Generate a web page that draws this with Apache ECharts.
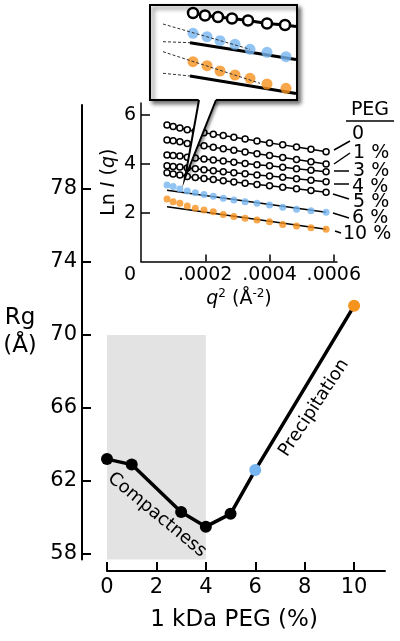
<!DOCTYPE html>
<html><head><meta charset="utf-8">
<script src="https://cdn.jsdelivr.net/npm/echarts@6/dist/echarts.min.js"></script>
<style>html,body{margin:0;padding:0;background:#fff}#c{width:400px;height:641px}</style>
</head><body><div id="c"></div>
<script>
// ---- main chart data ----
const peg = [0, 1, 3, 4, 5, 6, 10];
const rg = [63.2, 62.9, 60.3, 59.5, 60.2, 62.6, 71.6];
const rgTicks = [58, 62, 66, 70, 74, 78];
const pegTicks = [0, 2, 4, 6, 8, 10];
const compactRange = [0, 4];
const compactTop = 70;

// ---- inset (Guinier) data ----
const q2 = [0.000081, 0.0001, 0.000121, 0.000144, 0.000169, 0.000196, 0.000225, 0.000256, 0.000289, 0.000324, 0.000361, 0.0004, 0.000441, 0.000484, 0.000529, 0.000576];
const ln0 = [5.59, 5.53, 5.47, 5.40, 5.34, 5.28, 5.22, 5.16, 5.09, 5.02, 4.94, 4.86, 4.78, 4.69, 4.60, 4.50];
const ln1 = [4.98, 4.95, 4.91, 4.84, 4.79, 4.74, 4.68, 4.62, 4.56, 4.49, 4.42, 4.34, 4.26, 4.18, 4.09, 4.00];
const ln3 = [4.36, 4.34, 4.32, 4.27, 4.24, 4.20, 4.16, 4.12, 4.07, 4.02, 3.97, 3.92, 3.86, 3.80, 3.74, 3.68];
const ln4 = [3.92, 3.89, 3.87, 3.83, 3.80, 3.76, 3.72, 3.68, 3.64, 3.60, 3.55, 3.50, 3.45, 3.39, 3.33, 3.27];
const ln5 = [3.64, 3.59, 3.55, 3.48, 3.44, 3.40, 3.36, 3.31, 3.26, 3.21, 3.16, 3.10, 3.04, 2.98, 2.91, 2.84];
const ln6 = [3.14, 3.07, 2.97, 2.89, 2.82, 2.75, 2.67, 2.59, 2.52, 2.45, 2.39, 2.32, 2.22, 2.14, 2.08, 2.02];
const ln10 = [2.56, 2.45, 2.39, 2.27, 2.18, 2.11, 2.04, 1.93, 1.84, 1.77, 1.70, 1.63, 1.52, 1.45, 1.38, 1.32];
const fitQ2 = [0.000081, 0.000576];
const fit6 = [2.92, 2.02];
const fit10 = [2.24, 1.32];
const lnTicks = [2, 4, 6];
const q2Ticks = [0.0002, 0.0004, 0.0006];
const q2Labels = [0, 0.0002, 0.0004, 0.0006];
const pegLegend = ['0', '1 %', '3 %', '4 %', '5 %', '6 %', '10 %'];

// ---- callout (schematic zoom) data ----
const cBlackX = [4.3, 5.5, 6.8, 8.2, 9.8, 11.7, 13.5, 14.6];
const cBlackY = [8.7, 8.45, 8.3, 8.15, 7.95, 7.65, 7.5, 7.35];
const cDotX = [4.3, 5.7, 7.0, 8.5, 10.0, 11.7, 13.6];
const cBlueY = [6.67, 6.33, 5.93, 5.57, 5.07, 4.77, 4.33];
const cOrangeY = [3.83, 3.43, 2.9, 2.5, 2.17, 1.6, 1.17];
const cBlueFitX = [4.0, 14.6], cBlueFitY = [5.73, 4.04];
const cBlueLowX = [1.3, 4.0], cBlueLowY = [5.83, 5.73];
const cBlueUpX = [1.3, 10.0], cBlueUpY = [7.6, 5.07];
const cOrangeFitX = [4.0, 14.6], cOrangeFitY = [2.4, 0.64];
const cOrangeLowX = [1.3, 4.0], cOrangeLowY = [2.67, 2.4];
const cOrangeUpX = [1.3, 11.0], cOrangeUpY = [4.83, 1.67];
const cArrowX = 2.1;
const cBlueArrow = [5.83, 7.27];
const cOrangeArrow = [2.67, 4.6];

const BLUE = '#76b5ef', ORANGE = '#f6921e', FONT = 'DejaVu Sans';
const zip = (a, b) => a.map((v, i) => [v, b[i]]);

const chart = echarts.init(document.getElementById('c'), null, {renderer: 'canvas'});

const blackRow = (d) => ({
  type: 'line', xAxisIndex: 1, yAxisIndex: 1, data: zip(q2, d),
  symbol: 'circle', symbolSize: 6,
  itemStyle: {color: '#fff', borderColor: '#000', borderWidth: 1.5},
  lineStyle: {color: '#000', width: 1.5}, silent: true, animation: false
});
const fitLine = (x, y, xi, yi, w, dashed, z) => ({
  type: 'line', xAxisIndex: xi, yAxisIndex: yi, data: zip(x, y), symbol: 'none',
  lineStyle: {color: dashed ? '#333' : '#000', width: w, type: dashed ? [3, 2] : 'solid'},
  z: z, silent: true, animation: false
});

const legendY = [134, 153, 171, 187, 202, 218, 234];
const legendX = [352, 353, 353, 352, 353, 352, 343];
const leaders = [[334,150,350,141],[334,164,350,153],[334,171,349,171],[334,184,349,184],[333,194,349,199],[333,213,349,218],[335,231,341,233]];

const graphics = [];
pegLegend.forEach((t, i) => {
  graphics.push({type: 'text', z: 5, x: legendX[i], y: legendY[i], style: {text: t, font: '19px ' + FONT, fill: '#000', textVerticalAlign: 'middle'}});
  const l = leaders[i];
  graphics.push({type: 'line', z: 5, shape: {x1: l[0], y1: l[1], x2: l[2], y2: l[3]}, style: {stroke: '#000', lineWidth: 1.5}});
});
graphics.push({type: 'text', z: 5, x: 370, y: 110, style: {text: 'PEG', font: '19px ' + FONT, fill: '#000', textAlign: 'center', textVerticalAlign: 'middle'}});
graphics.push({type: 'line', z: 5, shape: {x1: 346, y1: 121, x2: 394, y2: 121}, style: {stroke: '#000', lineWidth: 1.5}});
graphics.push({type: 'text', z: 5, x: 157, y: 515, rotation: -0.69, style: {text: 'Compactness', font: '18px ' + FONT, fill: '#000', textAlign: 'center', textVerticalAlign: 'middle'}});
graphics.push({type: 'text', z: 5, x: 314, y: 408, rotation: 0.99, style: {text: 'Precipitation', font: '18px ' + FONT, fill: '#000', textAlign: 'center', textVerticalAlign: 'middle'}});
// callout box + pointer
graphics.push({type: 'rect', z: 100, shape: {x: 150, y: 5, width: 147, height: 95}, style: {fill: '#fff', stroke: '#000', lineWidth: 2, shadowBlur: 4, shadowOffsetX: 3, shadowOffsetY: 3, shadowColor: 'rgba(0,0,0,0.55)'}});
graphics.push({type: 'polygon', z: 101, shape: {points: [[199, 99], [216, 99], [185, 178]]}, style: {fill: '#fff', shadowBlur: 3, shadowOffsetX: 3, shadowOffsetY: 2, shadowColor: 'rgba(0,0,0,0.45)'}});
graphics.push({type: 'polygon', z: 102, shape: {points: [[199, 98], [216, 98], [185, 178]]}, style: {fill: '#fff'}});
graphics.push({type: 'polyline', z: 103, shape: {points: [[199, 100], [185, 178], [216, 100]]}, style: {stroke: '#000', lineWidth: 2, fill: null}});

const RG_MIN = 57.7, RG_MAX = 82.6;

const option = {
  animation: false,
  textStyle: {fontFamily: FONT, color: '#000'},
  grid: [
    {left: 107, top: 105, width: 278, height: 454.5},
    {left: 141, top: 102.9, width: 196, height: 158.6},
    {left: 150, top: 5, width: 146, height: 95},
    {left: 82, top: 105, width: 1, height: 454.5}
  ],
  xAxis: [
    {gridIndex: 0, type: 'value', min: 0, max: 11.25, offset: 11.5,
     axisLine: {show: true, lineStyle: {color: '#000', width: 2}},
     axisTick: {show: true, inside: true, length: 9, lineStyle: {color: '#000', width: 2}, customValues: pegTicks},
     axisLabel: {customValues: pegTicks, fontSize: 21, color: '#000', margin: 6},
     splitLine: {show: false},
     name: '1 kDa PEG (%)', nameLocation: 'middle', nameGap: 38,
     nameTextStyle: {fontSize: 23, color: '#000', padding: [0, 24, 0, 0]}},
    {gridIndex: 1, type: 'value', min: 0, max: 0.00061,
     axisLine: {show: true, lineStyle: {color: '#000', width: 1.5}},
     axisTick: {show: true, inside: true, length: 7, lineStyle: {color: '#000', width: 1.5}, customValues: q2Ticks},
     axisLabel: {customValues: q2Labels, fontSize: 19, color: '#000', margin: 4,
       formatter: v => v === 0 ? '{z|0}' : '.' + String(Math.round(v * 10000)).padStart(4, '0'),
       rich: {z: {fontSize: 19, padding: [0, 22, 0, 0]}}},
     splitLine: {show: false},
     name: '{i|q}{s|2}{n| (Å}{s|-2}{n|)}', nameLocation: 'middle', nameGap: 26,
     nameTextStyle: {rich: {
       i: {fontSize: 19, fontStyle: 'italic', lineHeight: 24},
       n: {fontSize: 19, lineHeight: 24},
       s: {fontSize: 12, verticalAlign: 'top', lineHeight: 24, padding: [0, 0, 10, 0]}}}},
    {gridIndex: 2, type: 'value', min: 0, max: 14.6, show: false},
    {gridIndex: 3, type: 'value', min: 0, max: 1, show: false}
  ],
  yAxis: [
    {gridIndex: 0, type: 'value', min: RG_MIN, max: RG_MAX, show: false},
    {gridIndex: 1, type: 'value', min: 0, max: 6.5,
     axisLine: {show: true, lineStyle: {color: '#000', width: 1.5}},
     axisTick: {show: true, inside: true, length: 9, lineStyle: {color: '#000', width: 1.5}, customValues: lnTicks},
     axisLabel: {customValues: lnTicks, fontSize: 19, color: '#000', margin: 5},
     splitLine: {show: false},
     name: '{n|Ln }{i|I}{n| (}{i|q}{n|)}', nameLocation: 'middle', nameGap: 22,
     nameTextStyle: {rich: {n: {fontSize: 19}, i: {fontSize: 19, fontStyle: 'italic'}}}},
    {gridIndex: 2, type: 'value', min: 0, max: 9.5, show: false},
    {gridIndex: 3, type: 'value', min: RG_MIN, max: RG_MAX, position: 'left',
     axisLine: {show: true, onZero: false, lineStyle: {color: '#000', width: 2}},
     axisTick: {show: true, inside: true, length: 9, lineStyle: {color: '#000', width: 2}, customValues: rgTicks},
     axisLabel: {customValues: rgTicks, fontSize: 21, color: '#000', margin: 5},
     splitLine: {show: false},
     name: 'Rg\n(Å)', nameLocation: 'middle', nameRotate: 0, nameGap: 62,
     nameTextStyle: {fontSize: 23, color: '#000', align: 'center', verticalAlign: 'middle', lineHeight: 28}}
  ],
  graphic: {elements: graphics},
  series: [
    {type: 'line', xAxisIndex: 0, yAxisIndex: 0,
     data: peg.map((p, i) => ({value: [p, rg[i]], itemStyle: {color: p === 6 ? BLUE : (p === 10 ? ORANGE : '#000')}})),
     symbol: 'circle', symbolSize: 12, lineStyle: {color: '#000', width: 3.5}, z: 3,
     markArea: {silent: true, itemStyle: {color: '#e3e3e3'},
       data: [[{coord: [compactRange[0], compactTop]}, {coord: [compactRange[1], RG_MIN]}]]}},
    blackRow(ln0), blackRow(ln1), blackRow(ln3), blackRow(ln4), blackRow(ln5),
    fitLine(fitQ2, fit6, 1, 1, 1.5, false, 2),
    fitLine(fitQ2, fit10, 1, 1, 1.5, false, 2),
    {type: 'scatter', xAxisIndex: 1, yAxisIndex: 1, data: zip(q2, ln6), symbolSize: 7, itemStyle: {color: BLUE}, z: 3, silent: true},
    {type: 'scatter', xAxisIndex: 1, yAxisIndex: 1, data: zip(q2, ln10), symbolSize: 7, itemStyle: {color: ORANGE}, z: 3, silent: true},
    // callout
    {type: 'line', xAxisIndex: 2, yAxisIndex: 2,
     data: zip(cBlackX, cBlackY).map((d, i) => i === cBlackX.length - 1 ? {value: d, symbol: 'none'} : d),
     symbol: 'circle', symbolSize: 10, itemStyle: {color: '#fff', borderColor: '#000', borderWidth: 2.5},
     lineStyle: {color: '#000', width: 3}, z: 110, silent: true},
    fitLine(cBlueFitX, cBlueFitY, 2, 2, 3, false, 110),
    fitLine(cOrangeFitX, cOrangeFitY, 2, 2, 3, false, 110),
    {type: 'scatter', xAxisIndex: 2, yAxisIndex: 2, data: zip(cDotX, cBlueY), symbolSize: 11, itemStyle: {color: BLUE}, z: 111, silent: true},
    {type: 'scatter', xAxisIndex: 2, yAxisIndex: 2, data: zip(cDotX, cOrangeY), symbolSize: 11, itemStyle: {color: ORANGE}, z: 111, silent: true},
    fitLine(cBlueLowX, cBlueLowY, 2, 2, 1, true, 112),
    fitLine(cBlueUpX, cBlueUpY, 2, 2, 1, true, 112),
    fitLine(cOrangeLowX, cOrangeLowY, 2, 2, 1, true, 112),
    fitLine(cOrangeUpX, cOrangeUpY, 2, 2, 1, true, 112),
    {type: 'line', xAxisIndex: 2, yAxisIndex: 2, data: [], z: 112, silent: true,
     markLine: {silent: true, symbol: ['none', 'arrow'], symbolSize: 6, label: {show: false},
       data: [
         [{coord: [cArrowX, cBlueArrow[0]], lineStyle: {color: BLUE, width: 1.5, type: 'solid'}}, {coord: [cArrowX, cBlueArrow[1]]}],
         [{coord: [cArrowX, cOrangeArrow[0]], lineStyle: {color: ORANGE, width: 1.5, type: 'solid'}}, {coord: [cArrowX, cOrangeArrow[1]]}]
       ]}}
  ]
};
chart.setOption(option);
</script></body></html>
